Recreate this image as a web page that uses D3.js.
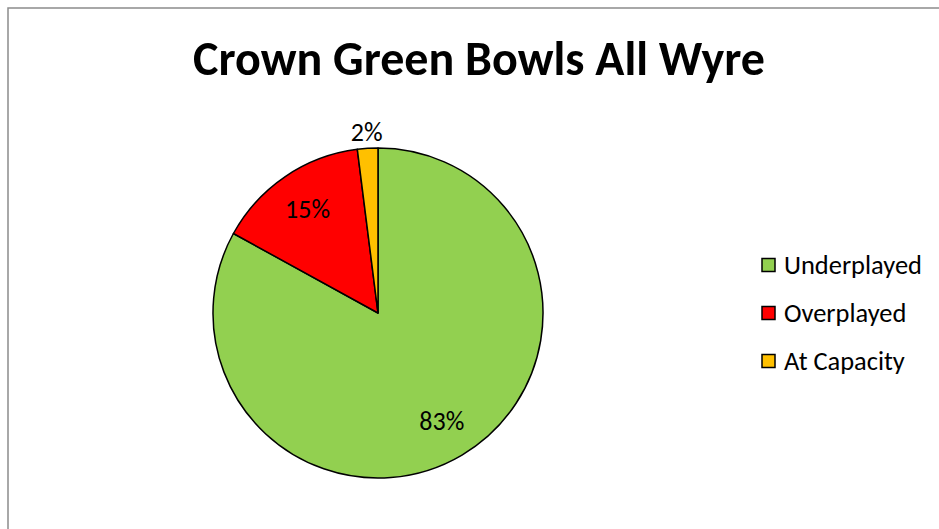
<!DOCTYPE html>
<html><head><meta charset="utf-8">
<script src="https://cdn.jsdelivr.net/npm/d3@7"></script>
<style>body{margin:0;background:#fff}svg{display:block}</style>
</head><body>
<script>
const title = "Crown Green Bowls All Wyre";
const categories = ["Underplayed", "Overplayed", "At Capacity"];
const values = [83, 15, 2];
const colors = ["#92D050", "#FF0000", "#FFC000"];

const W = 939, H = 529;
const svg = d3.select("body").append("svg").attr("width", W).attr("height", H);
svg.append("rect").attr("x", 8).attr("y", 8).attr("width", W + 20).attr("height", H + 20)
  .attr("fill", "#fff").attr("stroke", "#8c8c8c").attr("stroke-width", 1.5);

const font = "Carlito, Calibri, 'Liberation Sans', 'Open Sans', sans-serif";

function fitSize(txt, bold, target) {
  const tmp = svg.append("text").attr("font-family", font).attr("font-size", 20)
    .attr("font-weight", bold ? "bold" : "normal").text(txt);
  const w = tmp.node().getComputedTextLength();
  tmp.remove();
  return 20 * target / w;
}

svg.append("text").attr("x", 479).attr("y", 75).attr("text-anchor", "middle")
  .attr("font-family", font).attr("font-weight", "bold")
  .attr("font-size", fitSize(title, true, 572))
  .attr("fill", "#000").text(title);

const labelSize = fitSize("83%", false, 45);
const legendSize = fitSize("Underplayed", false, 138);

const cx = 378, cy = 313, r = 165;
const pie = d3.pie().sort(null).value(d => d)(values);
const arc = d3.arc().innerRadius(0).outerRadius(r);
const g = svg.append("g").attr("transform", `translate(${cx},${cy})`);
g.selectAll("path").data(pie).join("path")
  .attr("d", arc).attr("fill", (d, i) => colors[i])
  .attr("stroke", "#000").attr("stroke-width", 1.5).attr("stroke-linejoin", "round");

const total = d3.sum(values);
const labelArc = d3.arc().innerRadius(r * 0.76).outerRadius(r * 0.76);
const outerArc = d3.arc().innerRadius(r * 1.1).outerRadius(r * 1.1);
g.selectAll("text").data(pie).join("text")
  .attr("transform", (d, i) => {
    const p = (i === 2 ? outerArc : labelArc).centroid(d);
    return `translate(${p[0]},${p[1]})`;
  })
  .attr("text-anchor", "middle").attr("dy", "0.35em")
  .attr("font-family", font).attr("font-size", labelSize).attr("fill", "#000")
  .text(d => Math.round(d.data / total * 100) + "%");

const lg = svg.append("g");
categories.forEach((c, i) => {
  const y = 265 + i * 48;
  lg.append("rect").attr("x", 762).attr("y", y - 6.5).attr("width", 13).attr("height", 13)
    .attr("fill", colors[i]).attr("stroke", "#000").attr("stroke-width", 1.5);
  lg.append("text").attr("x", 784).attr("y", y).attr("dy", "0.35em")
    .attr("font-family", font).attr("font-size", legendSize).attr("fill", "#000").text(c);
});
</script>
</body></html>
